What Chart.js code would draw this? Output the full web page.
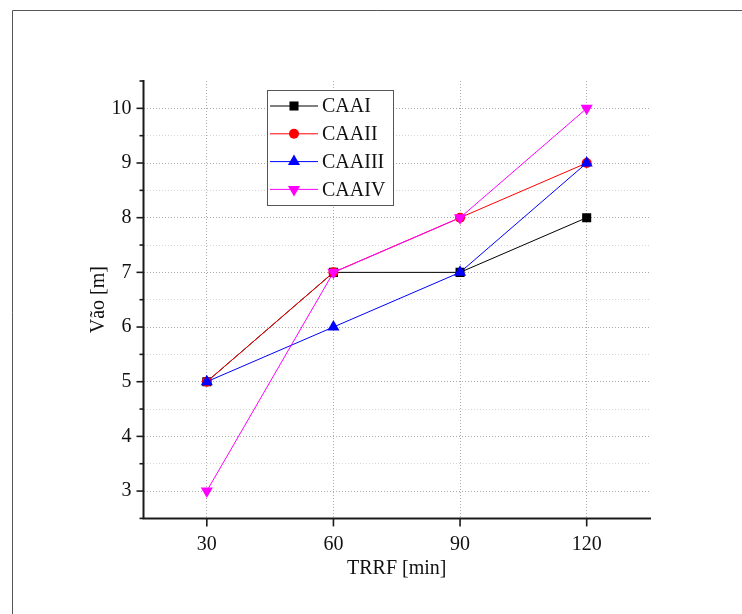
<!DOCTYPE html>
<html><head><meta charset="utf-8">
<script src="https://cdn.jsdelivr.net/npm/chart.js@4/dist/chart.umd.min.js"></script>
<style>html,body{margin:0;padding:0;background:#fff;} #wrap{position:relative;width:742px;height:614px;}</style>
</head><body><div id="wrap"><canvas id="c" width="742" height="614"></canvas></div>
<script>
const trrf = [30, 60, 90, 120];
const seriesNames = ['CAAI', 'CAAII', 'CAAIII', 'CAAIV'];
const caaI = [5, 7, 7, 8];
const caaII = [5, 7, 8, 9];
const caaIII = [5, 6, 7, 9];
const caaIV = [3, 7, 8, 10];
const xTicks = [30, 60, 90, 120];
const xTitle = 'TRRF [min]';
const yTitle = 'Vão [m]';

const FONT = '"Liberation Serif", "Times New Roman", serif';
const seriesValues = [caaI, caaII, caaIII, caaIV];
const styles = [
  {color: '#000000', pointStyle: 'rect', radius: 6.4, rotation: 0},
  {color: '#ff0000', pointStyle: 'circle', radius: 5, rotation: 0},
  {color: '#0000ff', pointStyle: 'triangle', radius: 7, rotation: 0},
  {color: '#ff00ff', pointStyle: 'triangle', radius: 7, rotation: 180}
];

const datasets = seriesNames.map((name, i) => ({
  label: name,
  data: trrf.map((x, j) => ({x: x, y: seriesValues[i][j]})),
  borderColor: styles[i].color,
  backgroundColor: styles[i].color,
  pointBackgroundColor: styles[i].color,
  pointBorderColor: styles[i].color,
  pointStyle: styles[i].pointStyle,
  pointRadius: styles[i].radius,
  pointRotation: styles[i].rotation,
  pointBorderWidth: 0,
  borderWidth: 1,
  tension: 0,
  order: 4 - i
}));

function drawMarker(ctx, st, x, y) {
  if (Chart.helpers && Chart.helpers.drawPoint) {
    ctx.save();
    ctx.fillStyle = st.color; ctx.strokeStyle = st.color; ctx.lineWidth = 0;
    Chart.helpers.drawPoint(ctx, {pointStyle: st.pointStyle, radius: st.radius, rotation: st.rotation, borderWidth: 0}, x, y);
    ctx.restore();
  }
}

const decor = {
  id: 'decor',
  beforeDraw(chart) {
    const ctx = chart.ctx;
    ctx.save();
    ctx.fillStyle = '#fff';
    ctx.fillRect(0, 0, chart.width, chart.height);
    ctx.strokeStyle = '#555';
    ctx.lineWidth = 1;
    ctx.beginPath();
    ctx.moveTo(12.5, chart.height);
    ctx.lineTo(12.5, 10.5);
    ctx.lineTo(chart.width, 10.5);
    ctx.stroke();
    ctx.restore();
  },
  afterDraw(chart) {
    const ctx = chart.ctx;
    const a = chart.chartArea;
    const xs = chart.scales.x, ys = chart.scales.y;
    ctx.save();
    ctx.strokeStyle = '#1a1a1a';
    ctx.lineWidth = 2;
    ctx.lineCap = 'square';
    ctx.beginPath();
    ctx.moveTo(a.left, a.top);
    ctx.lineTo(a.left, a.bottom);
    ctx.lineTo(a.right, a.bottom);
    ctx.stroke();
    ctx.lineCap = 'butt';
    ctx.lineWidth = 1.6;
    ys.ticks.forEach(t => {
      const py = ys.getPixelForValue(t.value);
      const major = Math.abs(t.value - Math.round(t.value)) < 1e-6;
      const len = major ? 7 : 4;
      ctx.beginPath();
      ctx.moveTo(a.left, py);
      ctx.lineTo(a.left - len, py);
      ctx.stroke();
    });
    xs.ticks.forEach(t => {
      const px = xs.getPixelForValue(t.value);
      ctx.beginPath();
      ctx.moveTo(px, a.bottom);
      ctx.lineTo(px, a.bottom + 8);
      ctx.stroke();
    });
    // legend
    const bx = 267, by = 90, bw = 126, bh = 115;
    ctx.fillStyle = '#fff';
    ctx.fillRect(bx, by, bw, bh);
    ctx.strokeStyle = '#555';
    ctx.lineWidth = 1;
    ctx.strokeRect(bx + 0.5, by + 0.5, bw, bh);
    ctx.font = '20px ' + FONT;
    ctx.textBaseline = 'middle';
    ctx.textAlign = 'left';
    chart.data.datasets.forEach((ds, i) => {
      const cy = 106 + i * 27.8;
      ctx.strokeStyle = ds.borderColor;
      ctx.lineWidth = 1;
      ctx.beginPath();
      ctx.moveTo(270, cy);
      ctx.lineTo(318, cy);
      ctx.stroke();
      drawMarker(ctx, styles[i], 294, cy);
      ctx.fillStyle = '#111';
      ctx.fillText(ds.label, 322, cy + 1);
    });
    ctx.restore();
  }
};

new Chart(document.getElementById('c'), {
  type: 'line',
  data: {datasets: datasets},
  options: {
    responsive: false,
    animation: false,
    devicePixelRatio: 1,
    layout: {padding: {left: 0, top: 81, right: 92, bottom: 0}},
    plugins: {legend: {display: false}, tooltip: {enabled: false}},
    scales: {
      x: {
        type: 'linear',
        min: 15, max: 135,
        afterBuildTicks: s => { s.ticks = xTicks.map(v => ({value: v})); },
        afterFit: s => { s.height = 95.6; },
        border: {display: false, dash: [1, 2]},
        grid: {drawTicks: false, color: '#aaaaaa', lineWidth: 1},
        ticks: {padding: 14, color: '#111', font: {family: FONT, size: 20}, maxRotation: 0, autoSkip: false},
        title: {display: true, text: xTitle, color: '#111', font: {family: FONT, size: 20}, padding: {top: 0, bottom: 33}}
      },
      y: {
        type: 'linear',
        min: 2.5, max: 10.5,
        afterFit: s => { s.width = 143.5; },
        border: {display: false, dash: [1, 2]},
        grid: {
          drawTicks: false, lineWidth: 1,
          color: c => {
            const v = c.tick ? c.tick.value : 0;
            if (v <= 2.5 || v >= 10.5) return 'rgba(0,0,0,0)';
            return Math.abs(v - Math.round(v)) < 1e-6 ? '#aaaaaa' : '#d6d6d6';
          }
        },
        ticks: {
          stepSize: 0.5, autoSkip: false, padding: 12, color: '#111',
          font: {family: FONT, size: 20},
          callback: v => (Math.abs(v - Math.round(v)) < 1e-6 ? String(Math.round(v)) : '')
        },
        title: {display: true, text: yTitle, color: '#111', font: {family: FONT, size: 20}, padding: {top: 87, bottom: 0}}
      }
    }
  },
  plugins: [decor]
});
</script>
</body></html>
